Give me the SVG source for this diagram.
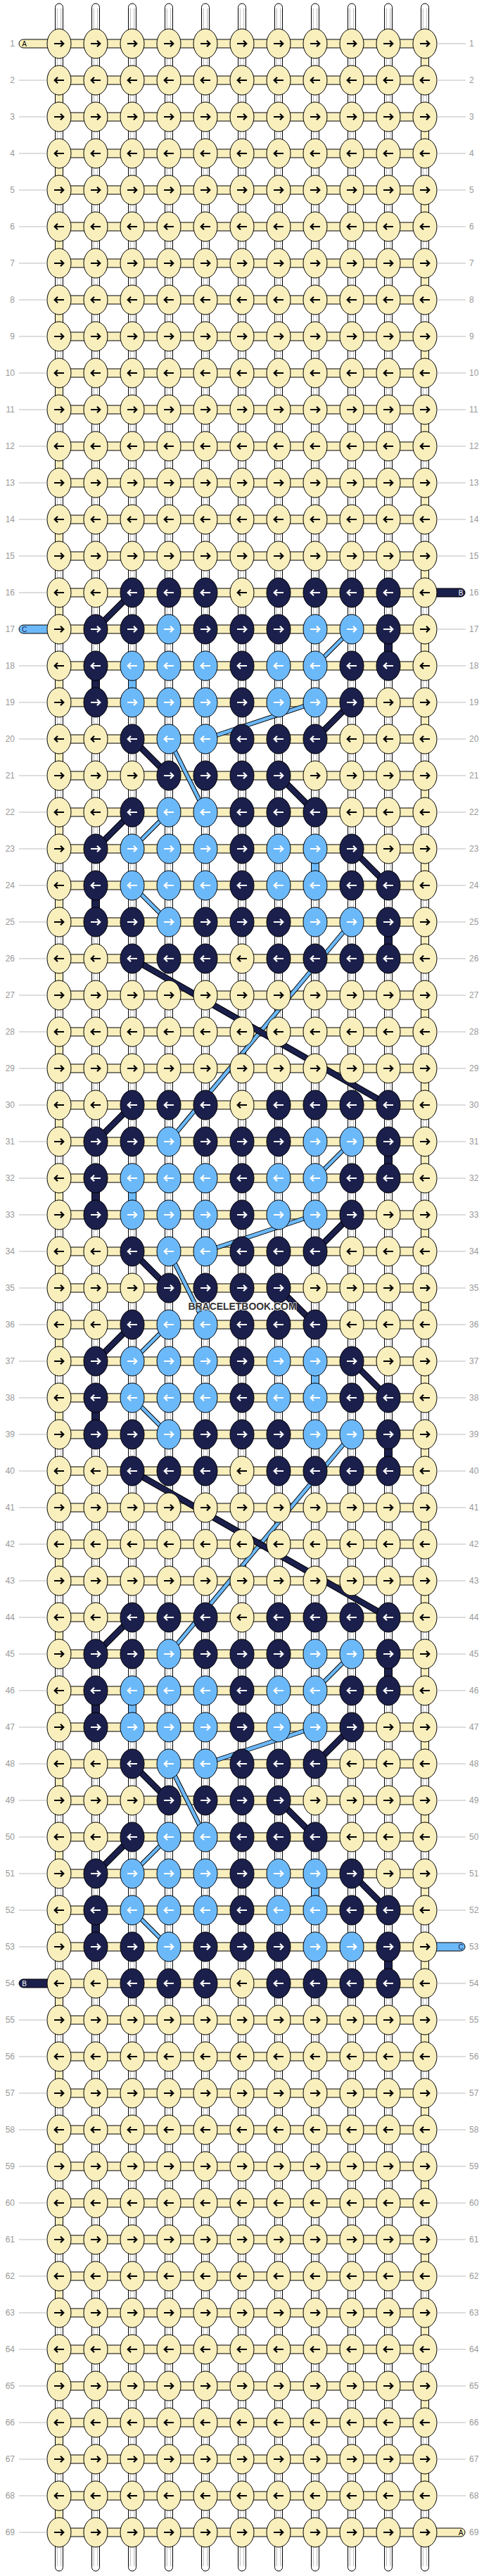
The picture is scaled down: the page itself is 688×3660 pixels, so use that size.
<svg xmlns="http://www.w3.org/2000/svg" width="688" height="3660" viewBox="0 0 688 3660">
<style>
.ky{fill:#f9efbd;stroke:#000;stroke-width:1}
.kn{fill:#1b1f4b;stroke:#000;stroke-width:1}
.kl{fill:#6cb9fa;stroke:#000;stroke-width:1}
.ak{fill:none;stroke:#000;stroke-width:2.2}
.aw{fill:none;stroke:#fff;stroke-width:2.2}
.lab{font-family:"Liberation Sans",Arial,sans-serif;font-size:12px;fill:#999}
.le{text-anchor:end}
.tk{stroke:#bbb;stroke-width:1;fill:none}
.sl{font-family:"Liberation Sans",Arial,sans-serif;font-size:10px;text-anchor:middle}
.vn{fill:#1b1f4b;stroke:#000;stroke-width:1}
.vl{fill:#6cb9fa;stroke:#000;stroke-width:1}
.sy{fill:#f9efbd;stroke:#000;stroke-width:1}
.sn{fill:#1b1f4b;stroke:#000;stroke-width:1}
.sb{fill:#6cb9fa;stroke:#000;stroke-width:1}
</style>
<defs>
<g id="vs"><rect x="-5.5" y="5" width="11" height="3648" rx="5.5" fill="#fff" stroke="#000"/><path d="M-2.75,12V3646M2.75,12V3646" stroke="#b5b5b5" fill="none"/></g>
<g id="YR"><ellipse rx="17" ry="21" class="ky"/><path class="ak" d="M-7,0H5.5M2,-4.3L6.3,0L2,4.3"/></g>
<g id="YL"><ellipse rx="17" ry="21" class="ky"/><path class="ak" d="M7,0H-5.5M-2,-4.3L-6.3,0L-2,4.3"/></g>
<g id="NR"><ellipse rx="17" ry="21" class="kn"/><path class="aw" d="M-7,0H5.5M2,-4.3L6.3,0L2,4.3"/></g>
<g id="NL"><ellipse rx="17" ry="21" class="kn"/><path class="aw" d="M7,0H-5.5M-2,-4.3L-6.3,0L-2,4.3"/></g>
<g id="LR"><ellipse rx="17" ry="21" class="kl"/><path class="aw" d="M-7,0H5.5M2,-4.3L6.3,0L2,4.3"/></g>
<g id="LL"><ellipse rx="17" ry="21" class="kl"/><path class="aw" d="M7,0H-5.5M-2,-4.3L-6.3,0L-2,4.3"/></g>
<g id="rowR"><use href="#YR" x="84"/><use href="#YR" x="136"/><use href="#YR" x="188"/><use href="#YR" x="240"/><use href="#YR" x="292"/><use href="#YR" x="344"/><use href="#YR" x="396"/><use href="#YR" x="448"/><use href="#YR" x="500"/><use href="#YR" x="552"/><use href="#YR" x="604"/></g>
<g id="rowL"><use href="#YL" x="84"/><use href="#YL" x="136"/><use href="#YL" x="188"/><use href="#YL" x="240"/><use href="#YL" x="292"/><use href="#YL" x="344"/><use href="#YL" x="396"/><use href="#YL" x="448"/><use href="#YL" x="500"/><use href="#YL" x="552"/><use href="#YL" x="604"/></g>
<g id="p0"><use href="#YL" x="84"/><use href="#YL" x="136"/><use href="#NL" x="188"/><use href="#NL" x="240"/><use href="#NL" x="292"/><use href="#YL" x="344"/><use href="#NL" x="396"/><use href="#NL" x="448"/><use href="#NL" x="500"/><use href="#NL" x="552"/><use href="#YL" x="604"/></g>
<g id="p1"><use href="#YR" x="84"/><use href="#NR" x="136"/><use href="#NR" x="188"/><use href="#LR" x="240"/><use href="#NR" x="292"/><use href="#NR" x="344"/><use href="#NR" x="396"/><use href="#LR" x="448"/><use href="#LR" x="500"/><use href="#NR" x="552"/><use href="#YR" x="604"/></g>
<g id="p2"><use href="#YL" x="84"/><use href="#NL" x="136"/><use href="#LL" x="188"/><use href="#LL" x="240"/><use href="#LL" x="292"/><use href="#NL" x="344"/><use href="#LL" x="396"/><use href="#LL" x="448"/><use href="#NL" x="500"/><use href="#NL" x="552"/><use href="#YL" x="604"/></g>
<g id="p3"><use href="#YR" x="84"/><use href="#NR" x="136"/><use href="#LR" x="188"/><use href="#LR" x="240"/><use href="#LR" x="292"/><use href="#NR" x="344"/><use href="#LR" x="396"/><use href="#LR" x="448"/><use href="#NR" x="500"/><use href="#YR" x="552"/><use href="#YR" x="604"/></g>
<g id="p4"><use href="#YL" x="84"/><use href="#YL" x="136"/><use href="#NL" x="188"/><use href="#LL" x="240"/><use href="#LL" x="292"/><use href="#NL" x="344"/><use href="#NL" x="396"/><use href="#NL" x="448"/><use href="#YL" x="500"/><use href="#YL" x="552"/><use href="#YL" x="604"/></g>
<g id="p5"><use href="#YR" x="84"/><use href="#YR" x="136"/><use href="#YR" x="188"/><use href="#NR" x="240"/><use href="#NR" x="292"/><use href="#NR" x="344"/><use href="#NR" x="396"/><use href="#YR" x="448"/><use href="#YR" x="500"/><use href="#YR" x="552"/><use href="#YR" x="604"/></g>
<path id="tk" class="tk" d="M27,0H67M621,0H662"/>
<path id="tkl" class="tk" d="M27,0H67"/>
<path id="tkr" class="tk" d="M621,0H662"/>
<g id="vb"><rect class="vn" x="546.5" y="52" width="11" height="52"/><rect class="vn" x="130.5" y="104" width="11" height="52"/><rect class="vl" x="182.5" y="104" width="11" height="52"/><rect class="vl" x="442.5" y="364" width="11" height="52"/><rect class="vn" x="130.5" y="416" width="11" height="52"/><rect class="vn" x="546.5" y="468" width="11" height="52"/></g>
<path id="dN" d="M188,0L136,52M500,156L448,208M188,208L240,260M396,260L448,312M188,312L136,364M500,364L552,416"/>
<path id="dNl" d="M188,520L552,728"/>
<path id="dL" d="M500,52L448,104M448,156L292,208M240,208L292,312M240,312L188,364M188,416L240,468"/>
<path id="dLl" d="M500,468L240,780"/>
</defs>
<rect width="688" height="3660" fill="#fff"/>
<g id="strings">
<use href="#vs" x="84"/><use href="#vs" x="136"/><use href="#vs" x="188"/><use href="#vs" x="240"/><use href="#vs" x="292"/><use href="#vs" x="344"/><use href="#vs" x="396"/><use href="#vs" x="448"/><use href="#vs" x="500"/><use href="#vs" x="552"/><use href="#vs" x="604"/>
</g>
<g id="wraps" fill="none">
<path d="M84,114V3598M604,62V3546" stroke="#000" stroke-width="12" stroke-dasharray="52 52"/>
<path d="M84,114V3598M604,62V3546" stroke="#f9efbd" stroke-width="10" stroke-dasharray="52 52"/>
</g>
<path id="bars" class="sy" d="M84,56h520v12h-520zM84,108h520v12h-520zM84,160h520v12h-520zM84,212h520v12h-520zM84,264h520v12h-520zM84,316h520v12h-520zM84,368h520v12h-520zM84,420h520v12h-520zM84,472h520v12h-520zM84,524h520v12h-520zM84,576h520v12h-520zM84,628h520v12h-520zM84,680h520v12h-520zM84,732h520v12h-520zM84,784h520v12h-520zM84,836h520v12h-520zM84,888h520v12h-520zM84,940h520v12h-520zM84,992h520v12h-520zM84,1044h520v12h-520zM84,1096h520v12h-520zM84,1148h520v12h-520zM84,1200h520v12h-520zM84,1252h520v12h-520zM84,1304h520v12h-520zM84,1356h520v12h-520zM84,1408h520v12h-520zM84,1460h520v12h-520zM84,1512h520v12h-520zM84,1564h520v12h-520zM84,1616h520v12h-520zM84,1668h520v12h-520zM84,1720h520v12h-520zM84,1772h520v12h-520zM84,1824h520v12h-520zM84,1876h520v12h-520zM84,1928h520v12h-520zM84,1980h520v12h-520zM84,2032h520v12h-520zM84,2084h520v12h-520zM84,2136h520v12h-520zM84,2188h520v12h-520zM84,2240h520v12h-520zM84,2292h520v12h-520zM84,2344h520v12h-520zM84,2396h520v12h-520zM84,2448h520v12h-520zM84,2500h520v12h-520zM84,2552h520v12h-520zM84,2604h520v12h-520zM84,2656h520v12h-520zM84,2708h520v12h-520zM84,2760h520v12h-520zM84,2812h520v12h-520zM84,2864h520v12h-520zM84,2916h520v12h-520zM84,2968h520v12h-520zM84,3020h520v12h-520zM84,3072h520v12h-520zM84,3124h520v12h-520zM84,3176h520v12h-520zM84,3228h520v12h-520zM84,3280h520v12h-520zM84,3332h520v12h-520zM84,3384h520v12h-520zM84,3436h520v12h-520zM84,3488h520v12h-520zM84,3540h520v12h-520zM84,3592h520v12h-520z"/>
<g id="connectors">
<use href="#vb" y="842"/><use href="#vb" y="1570"/><use href="#vb" y="2298"/>
<g fill="none" stroke="#000" stroke-width="6.5"><use href="#dL" y="842"/><use href="#dL" y="1570"/><use href="#dL" y="2298"/><use href="#dLl" y="842"/><use href="#dLl" y="1570"/></g>
<g fill="none" stroke="#6cb9fa" stroke-width="4.5"><use href="#dL" y="842"/><use href="#dL" y="1570"/><use href="#dL" y="2298"/><use href="#dLl" y="842"/><use href="#dLl" y="1570"/></g>
<g fill="none" stroke="#000" stroke-width="9"><use href="#dN" y="842"/><use href="#dN" y="1570"/><use href="#dN" y="2298"/><use href="#dNl" y="842"/><use href="#dNl" y="1570"/></g>
<g fill="none" stroke="#1b1f4b" stroke-width="7"><use href="#dN" y="842"/><use href="#dN" y="1570"/><use href="#dN" y="2298"/><use href="#dNl" y="842"/><use href="#dNl" y="1570"/></g>
</g>
<g id="ends">
<path class="sy" d="M84,56H33A6,6 0 0 0 33,68H84Z"/><text class="sl" x="34.5" y="65.6" fill="#000">A</text>
<path class="sb" d="M84,888H33A6,6 0 0 0 33,900H84Z"/><text class="sl" x="34.5" y="897.6" fill="#1b1f4b">C</text>
<path class="sn" d="M84,2812H33A6,6 0 0 0 33,2824H84Z"/><text class="sl" x="34.5" y="2821.6" fill="#fff">B</text>
<path class="sn" d="M604,836H655A6,6 0 0 1 655,848H604Z"/><text class="sl" x="655" y="845.6" fill="#fff">B</text>
<path class="sb" d="M604,2760H655A6,6 0 0 1 655,2772H604Z"/><text class="sl" x="655" y="2769.6" fill="#1b1f4b">C</text>
<path class="sy" d="M604,3592H655A6,6 0 0 1 655,3604H604Z"/><text class="sl" x="655" y="3601.6" fill="#000">A</text>
</g>
<g id="rows">
<g id="row-1" transform="translate(0,62)"><use href="#rowR"/><use href="#tkr"/><text class="lab le" x="21" y="4">1</text><text class="lab" x="667" y="4">1</text></g>
<g id="row-2" transform="translate(0,114)"><use href="#rowL"/><use href="#tk"/><text class="lab le" x="21" y="4">2</text><text class="lab" x="667" y="4">2</text></g>
<g id="row-3" transform="translate(0,166)"><use href="#rowR"/><use href="#tk"/><text class="lab le" x="21" y="4">3</text><text class="lab" x="667" y="4">3</text></g>
<g id="row-4" transform="translate(0,218)"><use href="#rowL"/><use href="#tk"/><text class="lab le" x="21" y="4">4</text><text class="lab" x="667" y="4">4</text></g>
<g id="row-5" transform="translate(0,270)"><use href="#rowR"/><use href="#tk"/><text class="lab le" x="21" y="4">5</text><text class="lab" x="667" y="4">5</text></g>
<g id="row-6" transform="translate(0,322)"><use href="#rowL"/><use href="#tk"/><text class="lab le" x="21" y="4">6</text><text class="lab" x="667" y="4">6</text></g>
<g id="row-7" transform="translate(0,374)"><use href="#rowR"/><use href="#tk"/><text class="lab le" x="21" y="4">7</text><text class="lab" x="667" y="4">7</text></g>
<g id="row-8" transform="translate(0,426)"><use href="#rowL"/><use href="#tk"/><text class="lab le" x="21" y="4">8</text><text class="lab" x="667" y="4">8</text></g>
<g id="row-9" transform="translate(0,478)"><use href="#rowR"/><use href="#tk"/><text class="lab le" x="21" y="4">9</text><text class="lab" x="667" y="4">9</text></g>
<g id="row-10" transform="translate(0,530)"><use href="#rowL"/><use href="#tk"/><text class="lab le" x="21" y="4">10</text><text class="lab" x="667" y="4">10</text></g>
<g id="row-11" transform="translate(0,582)"><use href="#rowR"/><use href="#tk"/><text class="lab le" x="21" y="4">11</text><text class="lab" x="667" y="4">11</text></g>
<g id="row-12" transform="translate(0,634)"><use href="#rowL"/><use href="#tk"/><text class="lab le" x="21" y="4">12</text><text class="lab" x="667" y="4">12</text></g>
<g id="row-13" transform="translate(0,686)"><use href="#rowR"/><use href="#tk"/><text class="lab le" x="21" y="4">13</text><text class="lab" x="667" y="4">13</text></g>
<g id="row-14" transform="translate(0,738)"><use href="#rowL"/><use href="#tk"/><text class="lab le" x="21" y="4">14</text><text class="lab" x="667" y="4">14</text></g>
<g id="row-15" transform="translate(0,790)"><use href="#rowR"/><use href="#tk"/><text class="lab le" x="21" y="4">15</text><text class="lab" x="667" y="4">15</text></g>
<g id="row-16" transform="translate(0,842)"><use href="#p0"/><use href="#tkl"/><text class="lab le" x="21" y="4">16</text><text class="lab" x="667" y="4">16</text></g>
<g id="row-17" transform="translate(0,894)"><use href="#p1"/><use href="#tkr"/><text class="lab le" x="21" y="4">17</text><text class="lab" x="667" y="4">17</text></g>
<g id="row-18" transform="translate(0,946)"><use href="#p2"/><use href="#tk"/><text class="lab le" x="21" y="4">18</text><text class="lab" x="667" y="4">18</text></g>
<g id="row-19" transform="translate(0,998)"><use href="#p3"/><use href="#tk"/><text class="lab le" x="21" y="4">19</text><text class="lab" x="667" y="4">19</text></g>
<g id="row-20" transform="translate(0,1050)"><use href="#p4"/><use href="#tk"/><text class="lab le" x="21" y="4">20</text><text class="lab" x="667" y="4">20</text></g>
<g id="row-21" transform="translate(0,1102)"><use href="#p5"/><use href="#tk"/><text class="lab le" x="21" y="4">21</text><text class="lab" x="667" y="4">21</text></g>
<g id="row-22" transform="translate(0,1154)"><use href="#p4"/><use href="#tk"/><text class="lab le" x="21" y="4">22</text><text class="lab" x="667" y="4">22</text></g>
<g id="row-23" transform="translate(0,1206)"><use href="#p3"/><use href="#tk"/><text class="lab le" x="21" y="4">23</text><text class="lab" x="667" y="4">23</text></g>
<g id="row-24" transform="translate(0,1258)"><use href="#p2"/><use href="#tk"/><text class="lab le" x="21" y="4">24</text><text class="lab" x="667" y="4">24</text></g>
<g id="row-25" transform="translate(0,1310)"><use href="#p1"/><use href="#tk"/><text class="lab le" x="21" y="4">25</text><text class="lab" x="667" y="4">25</text></g>
<g id="row-26" transform="translate(0,1362)"><use href="#p0"/><use href="#tk"/><text class="lab le" x="21" y="4">26</text><text class="lab" x="667" y="4">26</text></g>
<g id="row-27" transform="translate(0,1414)"><use href="#rowR"/><use href="#tk"/><text class="lab le" x="21" y="4">27</text><text class="lab" x="667" y="4">27</text></g>
<g id="row-28" transform="translate(0,1466)"><use href="#rowL"/><use href="#tk"/><text class="lab le" x="21" y="4">28</text><text class="lab" x="667" y="4">28</text></g>
<g id="row-29" transform="translate(0,1518)"><use href="#rowR"/><use href="#tk"/><text class="lab le" x="21" y="4">29</text><text class="lab" x="667" y="4">29</text></g>
<g id="row-30" transform="translate(0,1570)"><use href="#p0"/><use href="#tk"/><text class="lab le" x="21" y="4">30</text><text class="lab" x="667" y="4">30</text></g>
<g id="row-31" transform="translate(0,1622)"><use href="#p1"/><use href="#tk"/><text class="lab le" x="21" y="4">31</text><text class="lab" x="667" y="4">31</text></g>
<g id="row-32" transform="translate(0,1674)"><use href="#p2"/><use href="#tk"/><text class="lab le" x="21" y="4">32</text><text class="lab" x="667" y="4">32</text></g>
<g id="row-33" transform="translate(0,1726)"><use href="#p3"/><use href="#tk"/><text class="lab le" x="21" y="4">33</text><text class="lab" x="667" y="4">33</text></g>
<g id="row-34" transform="translate(0,1778)"><use href="#p4"/><use href="#tk"/><text class="lab le" x="21" y="4">34</text><text class="lab" x="667" y="4">34</text></g>
<g id="row-35" transform="translate(0,1830)"><use href="#p5"/><use href="#tk"/><text class="lab le" x="21" y="4">35</text><text class="lab" x="667" y="4">35</text></g>
<g id="row-36" transform="translate(0,1882)"><use href="#p4"/><use href="#tk"/><text class="lab le" x="21" y="4">36</text><text class="lab" x="667" y="4">36</text></g>
<g id="row-37" transform="translate(0,1934)"><use href="#p3"/><use href="#tk"/><text class="lab le" x="21" y="4">37</text><text class="lab" x="667" y="4">37</text></g>
<g id="row-38" transform="translate(0,1986)"><use href="#p2"/><use href="#tk"/><text class="lab le" x="21" y="4">38</text><text class="lab" x="667" y="4">38</text></g>
<g id="row-39" transform="translate(0,2038)"><use href="#p1"/><use href="#tk"/><text class="lab le" x="21" y="4">39</text><text class="lab" x="667" y="4">39</text></g>
<g id="row-40" transform="translate(0,2090)"><use href="#p0"/><use href="#tk"/><text class="lab le" x="21" y="4">40</text><text class="lab" x="667" y="4">40</text></g>
<g id="row-41" transform="translate(0,2142)"><use href="#rowR"/><use href="#tk"/><text class="lab le" x="21" y="4">41</text><text class="lab" x="667" y="4">41</text></g>
<g id="row-42" transform="translate(0,2194)"><use href="#rowL"/><use href="#tk"/><text class="lab le" x="21" y="4">42</text><text class="lab" x="667" y="4">42</text></g>
<g id="row-43" transform="translate(0,2246)"><use href="#rowR"/><use href="#tk"/><text class="lab le" x="21" y="4">43</text><text class="lab" x="667" y="4">43</text></g>
<g id="row-44" transform="translate(0,2298)"><use href="#p0"/><use href="#tk"/><text class="lab le" x="21" y="4">44</text><text class="lab" x="667" y="4">44</text></g>
<g id="row-45" transform="translate(0,2350)"><use href="#p1"/><use href="#tk"/><text class="lab le" x="21" y="4">45</text><text class="lab" x="667" y="4">45</text></g>
<g id="row-46" transform="translate(0,2402)"><use href="#p2"/><use href="#tk"/><text class="lab le" x="21" y="4">46</text><text class="lab" x="667" y="4">46</text></g>
<g id="row-47" transform="translate(0,2454)"><use href="#p3"/><use href="#tk"/><text class="lab le" x="21" y="4">47</text><text class="lab" x="667" y="4">47</text></g>
<g id="row-48" transform="translate(0,2506)"><use href="#p4"/><use href="#tk"/><text class="lab le" x="21" y="4">48</text><text class="lab" x="667" y="4">48</text></g>
<g id="row-49" transform="translate(0,2558)"><use href="#p5"/><use href="#tk"/><text class="lab le" x="21" y="4">49</text><text class="lab" x="667" y="4">49</text></g>
<g id="row-50" transform="translate(0,2610)"><use href="#p4"/><use href="#tk"/><text class="lab le" x="21" y="4">50</text><text class="lab" x="667" y="4">50</text></g>
<g id="row-51" transform="translate(0,2662)"><use href="#p3"/><use href="#tk"/><text class="lab le" x="21" y="4">51</text><text class="lab" x="667" y="4">51</text></g>
<g id="row-52" transform="translate(0,2714)"><use href="#p2"/><use href="#tk"/><text class="lab le" x="21" y="4">52</text><text class="lab" x="667" y="4">52</text></g>
<g id="row-53" transform="translate(0,2766)"><use href="#p1"/><use href="#tkl"/><text class="lab le" x="21" y="4">53</text><text class="lab" x="667" y="4">53</text></g>
<g id="row-54" transform="translate(0,2818)"><use href="#p0"/><use href="#tkr"/><text class="lab le" x="21" y="4">54</text><text class="lab" x="667" y="4">54</text></g>
<g id="row-55" transform="translate(0,2870)"><use href="#rowR"/><use href="#tk"/><text class="lab le" x="21" y="4">55</text><text class="lab" x="667" y="4">55</text></g>
<g id="row-56" transform="translate(0,2922)"><use href="#rowL"/><use href="#tk"/><text class="lab le" x="21" y="4">56</text><text class="lab" x="667" y="4">56</text></g>
<g id="row-57" transform="translate(0,2974)"><use href="#rowR"/><use href="#tk"/><text class="lab le" x="21" y="4">57</text><text class="lab" x="667" y="4">57</text></g>
<g id="row-58" transform="translate(0,3026)"><use href="#rowL"/><use href="#tk"/><text class="lab le" x="21" y="4">58</text><text class="lab" x="667" y="4">58</text></g>
<g id="row-59" transform="translate(0,3078)"><use href="#rowR"/><use href="#tk"/><text class="lab le" x="21" y="4">59</text><text class="lab" x="667" y="4">59</text></g>
<g id="row-60" transform="translate(0,3130)"><use href="#rowL"/><use href="#tk"/><text class="lab le" x="21" y="4">60</text><text class="lab" x="667" y="4">60</text></g>
<g id="row-61" transform="translate(0,3182)"><use href="#rowR"/><use href="#tk"/><text class="lab le" x="21" y="4">61</text><text class="lab" x="667" y="4">61</text></g>
<g id="row-62" transform="translate(0,3234)"><use href="#rowL"/><use href="#tk"/><text class="lab le" x="21" y="4">62</text><text class="lab" x="667" y="4">62</text></g>
<g id="row-63" transform="translate(0,3286)"><use href="#rowR"/><use href="#tk"/><text class="lab le" x="21" y="4">63</text><text class="lab" x="667" y="4">63</text></g>
<g id="row-64" transform="translate(0,3338)"><use href="#rowL"/><use href="#tk"/><text class="lab le" x="21" y="4">64</text><text class="lab" x="667" y="4">64</text></g>
<g id="row-65" transform="translate(0,3390)"><use href="#rowR"/><use href="#tk"/><text class="lab le" x="21" y="4">65</text><text class="lab" x="667" y="4">65</text></g>
<g id="row-66" transform="translate(0,3442)"><use href="#rowL"/><use href="#tk"/><text class="lab le" x="21" y="4">66</text><text class="lab" x="667" y="4">66</text></g>
<g id="row-67" transform="translate(0,3494)"><use href="#rowR"/><use href="#tk"/><text class="lab le" x="21" y="4">67</text><text class="lab" x="667" y="4">67</text></g>
<g id="row-68" transform="translate(0,3546)"><use href="#rowL"/><use href="#tk"/><text class="lab le" x="21" y="4">68</text><text class="lab" x="667" y="4">68</text></g>
<g id="row-69" transform="translate(0,3598)"><use href="#rowR"/><use href="#tkl"/><text class="lab le" x="21" y="4">69</text><text class="lab" x="667" y="4">69</text></g>
</g>
<text id="watermark" x="344.5" y="1861" text-anchor="middle" font-family="'Liberation Sans', Arial, sans-serif" font-weight="bold" font-size="15.5" textLength="154" lengthAdjust="spacingAndGlyphs" fill="#333" stroke="#fff" stroke-opacity="0.7" stroke-width="2" paint-order="stroke">BRACELETBOOK.COM</text>
</svg>
